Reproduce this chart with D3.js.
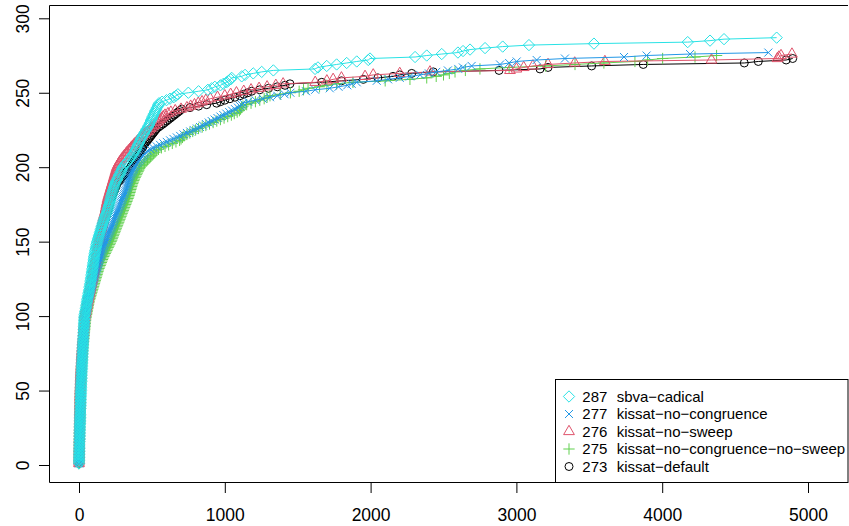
<!DOCTYPE html>
<html>
<head>
<meta charset="utf-8">
<script src="https://cdn.jsdelivr.net/npm/d3@7"></script>
<style>
  body { margin: 0; background: #fff; }
  svg { display: block; font-family: "Liberation Sans", Arial, sans-serif; }
</style>
</head>
<body>
<div id="chart"></div>
<script>
// solve times (s) for each solved instance, sorted; count solved = index + 1
const timesDefault = [
  0,0,0,0,0,0,1,1,1,1, 1,1,1,2,2,2,2,2,2,3, 3,3,3,3,3,3,4,4,4,4, 4,5,5,5,5,5,5,6,6,6,
  6,6,7,7,7,7,7,8,8,8, 8,9,9,9,10,10,10,11,11,12, 12,12,13,13,14,14,15,15,16,16,
  17,17,18,18,19,19,20,21,21,22, 22,23,24,24,25,26,26,27,28,29, 29,30,31,31,32,33,33,34,35,35,
  38,40,42,44,46,48,50,52,54,56, 58,60,62,64,66,68,70,72,74,76, 78,80,82,84,86,88,90,92,94,96,
  98,100,102,104,106,108,110,112,114,116, 118,120,122,124,126,128,130,132,134,136,
  138,141,144,147,150,153,156,159,162,165, 168,171,174,177,180,183,186,189,192,195,
  198,201,204,207,210,213,216,219,222,225, 229,233,237,241,245,249,253,257,261,265,
  278,286,294,302,310,318,326,334,343,355, 361,367,373,379,385,391,397,403,409,415,
  421,427,433,439,445,453,461,469,477,485, 493,501,509,517,525,533,547,561,575,588,
  601,614,627,640,653,666,679,692,704,761, 820,876,944,970,1000,1035,1070,1104,1130,1157,
  1184,1240,1300,1360,1413,1447,1665,1800,1950,2050, 2154,2200,2282,2430,2881,3162,3217,3516,3870,4563,
  4659,4850,4895
];
const timesNoCongNoSweep = [
  0,0,0,0,1,1,1,1,1,1, 2,2,2,2,2,2,3,3,3,3, 3,3,4,4,4,4,4,5,5,5, 5,6,6,6,6,6,7,7,7,7,
  8,8,8,8,9,9,9,9,10,10, 10,11,11,11,12,12,13,13,14,14, 15,15,16,16,17,17,18,19,19,20,
  21,21,22,23,24,24,25,26,27,28, 29,30,31,32,33,34,35,36,37,38, 39,40,41,42,43,44,45,46,48,50,
  52,54,56,58,60,62,64,66,68,70, 73,76,79,82,85,88,91,94,97,100, 103,106,109,112,115,118,121,124,127,130,
  133,137,141,145,149,153,157,161,165,170, 175,180,185,190,195,200,205,210,215,220,
  224,228,232,236,240,244,248,252,256,260, 264,268,272,276,280,284,288,292,296,300,
  304,308,312,316,320,324,328,332,336,340, 343,346,349,352,355,358,361,364,368,372,
  376,380,385,390,395,400,405,410,415,420, 430,440,450,460,470,480,490,500,510,520,
  530,545,565,590,615,640,665,690,700,710, 720,740,760,780,800,820,845,870,895,920,
  945,970,995,1020,1045,1065,1085,1100,1108,1115, 1125,1150,1180,1210,1240,1270,1290,1310,1380,1450,
  1510,1540,1571,1650,1700,1767,1879,2100,2270,2385, 2450,2500,2540,2579,2650,2750,2950,3200,3402,3600,
  3813,3900,4003,4225,4373
];
const timesNoSweep = [
  0,0,0,0,0,1,1,1,1,1, 1,1,2,2,2,2,2,2,3,3, 3,3,3,3,3,4,4,4,4,4, 5,5,5,5,5,5,6,6,6,6,
  6,7,7,7,7,7,7,8,8,8, 8,9,9,9,10,10,10,11,11,12, 12,13,13,14,14,15,15,16,16,17,
  17,18,18,19,20,20,21,22,22,23, 24,24,25,26,27,28,29,30,31,32, 32,33,34,35,36,36,37,38,39,40,
  42,44,46,48,50,52,54,56,58,60, 62,64,66,68,70,72,74,76,78,80, 82,84,86,88,90,92,94,96,98,100,
  102,104,106,108,110,112,114,116,118,120, 122,123,124,126,127,128,130,131,133,135,
  137,139,141,143,145,147,149,151,153,155, 157,159,161,163,165,167,170,173,176,179,
  181,183,185,187,189,191,193,195,197,200, 203,206,209,212,215,218,221,224,227,230,
  233,236,239,242,245,248,251,254,257,260, 265,270,276,283,290,297,305,313,322,330,
  339,348,357,366,375,385,395,405,415,425, 436,447,458,470,481,492,503,514,525,535,
  545,556,567,578,590,610,630,660,700,740, 766,792,818,844,870,900,950,1000,1040,1080,
  1130,1180,1235,1290,1350,1400,1620,1700,1743,1800, 1962,2018,2200,2407,2956,3000,3050,3113,3217,3400,
  3607,4338,4790,4800,4815,4890
];
const timesNoCongruence = [
  0,0,0,0,1,1,1,1,1,1, 2,2,2,2,2,2,3,3,3,3, 3,4,4,4,4,4,5,5,5,5, 5,6,6,6,6,6,7,7,7,7,
  7,8,8,8,8,8,9,9,9,9, 10,10,10,11,11,11,12,12,13,13, 14,14,15,15,16,16,17,17,18,19,
  19,20,21,21,22,23,24,24,25,26, 27,28,29,30,31,32,33,34,35,36, 37,38,39,40,41,42,43,44,45,46,
  47,48,49,50,51,52,53,54,55,57, 59,62,65,68,71,74,77,80,83,86, 89,92,95,98,101,104,107,110,113,116,
  119,122,125,128,131,134,137,140,143,146, 149,152,155,158,162,166,170,174,178,182,
  186,190,194,198,202,206,210,214,218,222, 226,230,234,238,242,246,250,254,258,262,
  266,270,274,278,282,286,290,294,298,302, 306,310,314,318,322,326,329,332,335,338,
  341,344,347,350,355,360,365,370,375,380, 385,393,401,409,417,425,433,441,449,457,
  470,490,510,533,556,579,602,625,648,671, 694,717,740,763,786,809,830,850,870,890,
  910,930,950,970,990,1010,1030,1050,1070,1090, 1105,1115,1125,1160,1210,1260,1310,1360,1410,1450,
  1557,1620,1720,1780,1840,1870,1905,2042,2120,2200, 2270,2340,2400,2450,2530,2601,2633,2693,2888,2950,
  3002,3139,3333,3738,3893,4191,4728
];
const timesSbvaCadical = [
  0,0,0,1,1,1,1,2,2,2, 2,3,3,3,3,4,4,4,4,5, 5,5,5,6,6,6,6,7,7,7, 7,8,8,8,9,9,9,10,10,10,
  11,11,11,12,12,12,13,13,13,14, 14,14,15,15,15,16,16,17,17,17, 18,18,19,19,20,20,20,21,21,22,
  22,23,23,24,24,25,25,26,26,27, 27,28,28,29,29,30,30,31,32,32, 33,33,34,34,35,35,36,36,37,37,
  39,41,43,45,47,49,50,52,54,55, 57,59,61,63,65,67,69,71,72,74, 76,77,79,81,82,84,85,87,88,90,
  91,93,94,96,97,99,100,101,103,104, 106,108,110,112,114,116,118,120,122,125,
  128,131,134,137,140,143,146,149,152,155, 158,162,165,169,172,176,180,184,188,192,
  195,198,201,204,207,210,213,215,218,220, 223,226,229,232,235,238,241,244,247,252,
  257,262,267,272,277,282,287,292,296,300, 308,317,326,335,345,352,359,366,373,380,
  385,390,395,400,405,410,415,420,425,430, 436,442,448,454,460,466,473,478,483,488,
  492,497,501,506,510,515,520,525,530,535, 540,545,549,570,600,624,650,665,678,750,
  820,884,910,932,970,990,1012,1025,1040,1047, 1116,1139,1195,1253,1333,1619,1639,1699,1767,1836,
  1905,1984,1996,2305,2385,2488,2599,2634,2682,2785, 2906,3086,3532,4175,4328,4424,4785
];

const solverNames = ['sbva\u2212cadical', 'kissat\u2212no\u2212congruence', 'kissat\u2212no\u2212sweep',
  'kissat\u2212no\u2212congruence\u2212no\u2212sweep', 'kissat\u2212default'];
const solverTimes = [timesSbvaCadical, timesNoCongruence, timesNoSweep, timesNoCongNoSweep, timesDefault];
const solverColors = ['#28E2E5', '#2297E6', '#DF536B', '#61D04F', '#000000'];
const solverShapes = ['diamond', 'cross', 'triangle', 'plus', 'circle'];

const xTicks = [0, 1000, 2000, 3000, 4000, 5000];
const yTicks = [0, 50, 100, 150, 200, 250, 300];

const width = 849;
const height = 526;
const box = { left: 49.5, top: 5.5, right: 848, bottom: 482.5 };

const xScale = d3.scaleLinear().domain([0, 5000]).range([79, 808]);
const yScale = d3.scaleLinear().domain([0, 300]).range([465, 18.3]);

const svg = d3.select('#chart').append('svg')
  .attr('width', width).attr('height', height);

svg.append('defs').append('clipPath').attr('id', 'plotclip')
  .append('rect')
  .attr('x', box.left).attr('y', box.top)
  .attr('width', box.right - box.left).attr('height', box.bottom - box.top);

// R-style point symbols
const s = 4.0;
function shapePath(kind) {
  const d = Math.SQRT2 * s;
  if (kind === 'diamond') return `M0,${-d}L${d},0L0,${d}L${-d},0Z`;
  if (kind === 'cross') return `M${-s},${-s}L${s},${s}M${-s},${s}L${s},${-s}`;
  if (kind === 'plus') return `M${-d},0H${d}M0,${-d}V${d}`;
  if (kind === 'triangle') {
    const r = 1.5551 * s, xc = 1.3468 * s, yc = 0.7776 * s;
    return `M0,${-r}L${xc},${yc}L${-xc},${yc}Z`;
  }
  return null;
}

const plot = svg.append('g').attr('clip-path', 'url(#plotclip)');
const line = d3.line().x(d => xScale(d[0])).y(d => yScale(d[1]));

// draw from fewest solved to most, so sbva-cadical ends up on top
d3.range(solverTimes.length).reverse().forEach(i => {
  const pts = solverTimes[i].map((t, k) => [t, k + 1]);
  const g = plot.append('g');
  g.append('path').datum(pts)
    .attr('d', line)
    .attr('fill', 'none')
    .attr('stroke', solverColors[i])
    .attr('stroke-width', 1);
  if (solverShapes[i] === 'circle') {
    g.selectAll('circle').data(pts).join('circle')
      .attr('cx', d => xScale(d[0])).attr('cy', d => yScale(d[1]))
      .attr('r', s)
      .attr('fill', 'none').attr('stroke', solverColors[i]).attr('stroke-width', 1);
  } else {
    g.selectAll('path.pt').data(pts).join('path')
      .attr('class', 'pt')
      .attr('transform', d => `translate(${xScale(d[0])},${yScale(d[1])})`)
      .attr('d', shapePath(solverShapes[i]))
      .attr('fill', 'none').attr('stroke', solverColors[i]).attr('stroke-width', 1);
  }
});

// box
svg.append('path')
  .attr('d', `M${box.right},${box.top}H${box.left}V${box.bottom}H${box.right}`)
  .attr('fill', 'none').attr('stroke', '#000').attr('stroke-width', 1);

// axes
const xAxis = svg.append('g')
  .attr('transform', `translate(0,${box.bottom})`)
  .call(d3.axisBottom(xScale).tickValues(xTicks).tickFormat(d3.format('d'))
    .tickSize(10.5).tickSizeOuter(0).tickPadding(16));
const yAxis = svg.append('g')
  .attr('transform', `translate(${box.left},0)`)
  .call(d3.axisLeft(yScale).tickValues(yTicks).tickFormat(d3.format('d'))
    .tickSize(10.5).tickSizeOuter(0));

[xAxis, yAxis].forEach(ax => {
  ax.select('.domain').remove();
  ax.selectAll('line').attr('stroke', '#000');
  ax.selectAll('text')
    .attr('fill', '#000')
    .style('font-size', '17.5px')
    .style('font-family', '"Liberation Sans", Arial, sans-serif');
});
yAxis.selectAll('text')
  .attr('x', null).attr('dy', null)
  .attr('text-anchor', 'middle')
  .attr('transform', 'translate(-20.7,0) rotate(-90)');

// legend, bottom right
const legend = svg.append('g');
legend.append('rect')
  .attr('x', 555.5).attr('y', 379.5)
  .attr('width', 848 - 555.5).attr('height', box.bottom - 379.5)
  .attr('fill', '#fff').attr('stroke', '#000').attr('stroke-width', 1);

solverNames.forEach((name, i) => {
  const cy = 396.5 + i * 17.5;
  if (solverShapes[i] === 'circle') {
    legend.append('circle').attr('cx', 569).attr('cy', cy).attr('r', s)
      .attr('fill', 'none').attr('stroke', solverColors[i]);
  } else {
    legend.append('path').attr('transform', `translate(569,${cy})`)
      .attr('d', shapePath(solverShapes[i]))
      .attr('fill', 'none').attr('stroke', solverColors[i]);
  }
  legend.append('text').attr('x', 582.3).attr('y', cy + 5.4)
    .style('font-size', '15px').text(solverTimes[i].length);
  legend.append('text').attr('x', 616.7).attr('y', cy + 5.4)
    .style('font-size', '15px').text(name);
});
</script>
</body>
</html>
